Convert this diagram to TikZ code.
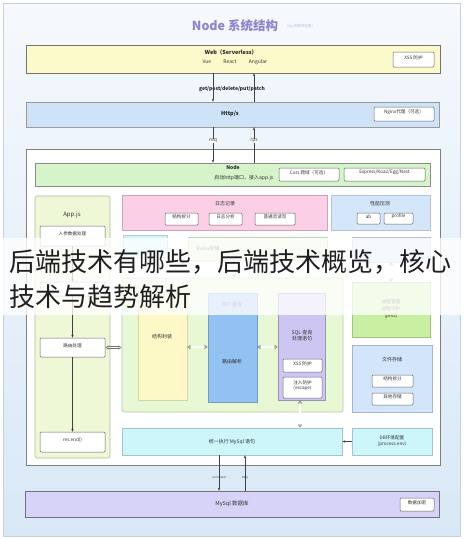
\documentclass[tikz,border=0pt]{standalone}
\usepackage{fontspec}
\setmainfont{Noto Sans CJK SC}
\usetikzlibrary{fit,arrows.meta,calc}
\definecolor{bgtop}{HTML}{F6F9FD}
\definecolor{bgbot}{HTML}{D9E8F7}
\definecolor{bgline}{HTML}{C5D2DE}
\definecolor{webfill}{HTML}{FCF9CB}
\definecolor{httpfill}{HTML}{CFE3F8}
\definecolor{nodefill}{HTML}{D6F4CA}
\definecolor{appfill}{HTML}{EEF8D7}
\definecolor{pinkfill}{HTML}{FBD0E7}
\definecolor{perffill}{HTML}{D3E6FA}
\definecolor{cyanfill}{HTML}{D6F3F7}
\definecolor{redisfill}{HTML}{E4F7DA}
\definecolor{midfill}{HTML}{E8F8D4}
\definecolor{yelfill}{HTML}{FDF9C6}
\definecolor{bluefill}{HTML}{92C2F1}
\definecolor{sqlfill}{HTML}{CDC6F2}
\definecolor{pmfill}{HTML}{C9F0A2}
\definecolor{filefill}{HTML}{D2E5FA}
\definecolor{stmtfill}{HTML}{CDF6FA}
\definecolor{dbfill}{HTML}{D6D2F8}
\definecolor{titlecol}{HTML}{8A86D0}
\definecolor{txt}{HTML}{333333}
\tikzset{
  area/.style={draw=#1, line width=0.6pt, inner sep=0pt},
  ib/.style={draw=black!60, fill=white, rounded corners=1pt, line width=0.5pt, inner sep=0pt, font=\fontsize{4.6}{5.5}\selectfont, text=txt},
  lbl/.style={font=\fontsize{5}{6}\selectfont, text=txt, inner sep=0.5pt},
  blbl/.style={font=\fontsize{5.5}{6.5}\selectfont\bfseries, text=black!85, inner sep=0.5pt},
  arr/.style={draw=black!75, line width=0.5pt, -{Stealth[length=3pt,width=2.4pt]}},
  dbl/.style={draw=black!55, double=white, double distance=1.3pt, line width=0.45pt,
    {Latex[open,length=3pt,width=4.5pt]}-{Latex[open,length=3pt,width=4.5pt]}},
}
\begin{document}
\begin{tikzpicture}[x=1pt,y=-1pt]
\path[use as bounding box, fill=white] (0,0) rectangle (465,539);
% background panel
\path[draw=bgline, line width=0.6pt, top color=bgtop, bottom color=bgbot] (3,3) rectangle (460,536);
\node[font=\fontsize{12.5}{13}\selectfont\bfseries, text=titlecol] (title) at (235,26) {Node 系统结构};
\node[font=\fontsize{3.6}{4}\selectfont, text=titlecol!60, anchor=west] (subt) at (title.east) {（by 肉曲的宝串）};

% Web
\node[area=black!55, fill=webfill, fit={(26,45)(440,73)}] (web) {};
\node[blbl] (webt) at (231,52) {Web（Serverless）};
\node[lbl] (vue) at (207,62) {Vue};
\node[lbl] (react) at (230,62) {React};
\node[lbl] (ang) at (258,62) {Angular};
\node[ib, fit={(393,52)(434,67)}] (xss1) {XSS 防护};

% Http
\node[area=black!40, fill=httpfill, fit={(26,102)(439,127)}] (http) {};
\node[blbl] (httpt) at (230,114) {Http/s};
\node[ib, fit={(374,107)(434,121)}] (nginx) {Nginx代理（可选）};
\node[blbl, font=\fontsize{5}{6}\selectfont\bfseries] (method) at (232,89) {get/post/delete/put/patch};

% container
\node[area=black!50, fill=white, fit={(26,149)(440,465)}] (cont) {};

% Node bar
\node[area=black!45, fill=nodefill, fit={(35,163)(430,186)}] (nodebar) {};
\node[blbl, font=\fontsize{5}{6}\selectfont\bfseries] (nodet) at (233,168) {Node};
\node[lbl, anchor=east] (nodes) at (274,178) {启动http端口，接入app.js};
\node[ib, fit={(279,168)(339,181)}] (cors) {Cors 跨域（可选）};
\node[ib, fit={(344,168)(425,181)}] (express) {Express/Koa2/Egg/Nest};

% coordinates for vertical connectors
\coordinate (xa) at (213,0);
\coordinate (xb) at (254,0);
\draw[arr] (web.south -| xa) -- (http.north -| xa);
\draw[arr] (http.north -| xb) -- (web.south -| xb);
\draw[arr] (http.south -| xa) -- (nodebar.north -| xa);
\draw[arr] (nodebar.north -| xb) -- (http.south -| xb);
\node[lbl, fill=white, inner sep=0.3pt] (req) at (213,141) {req};
\node[lbl, fill=white, inner sep=0.3pt] (rps) at (254,141) {rps};

% App.js column
\node[area=black!15!appfill!70!black, draw=appfill!75!black, fill=appfill, rounded corners=2pt, fit={(35,196)(110,458)}] (app) {};
\node[lbl, font=\fontsize{6}{7}\selectfont] (appt) at (72,215) {App.js};
\node[ib, fit={(40,226)(105,246)}] (rucan) {入参数据处理};
\node[ib, fit={(40,282)(105,296)}] (hid) {};
\node[ib, fit={(40,338)(105,357)}] (luyou) {路由处理};
\node[ib, fit={(40,432)(105,452)}] (resend) {res.end()};
\draw[arr] (rucan) -- (hid);
\draw[arr] (hid) -- (luyou);
\draw[arr] (luyou) -- (resend);

% log
\node[area=pinkfill!80!black, fill=pinkfill, fit={(122,195)(327,230)}] (log) {};
\node[lbl] (logt) at (225,204) {日志记录};
\node[ib, fit={(165,213)(198,225)}] (lg1) {结构拆分};
\node[ib, fit={(209,213)(242,225)}] (lg2) {日志分析};
\node[ib, fit={(255,213)(295,225)}] (lg3) {普通流读写};

% perf
\node[area=perffill!85!black, fill=perffill, fit={(331,195)(430,230)}] (perf) {};
\node[lbl] (perft) at (380,204) {性能压测};
\node[ib, fit={(357,213)(380,224)}] (ab) {ab};
\node[ib, fit={(384,213)(413,224)}] (prof) {profile};

% redis row
\node[area=cyanfill!85!black, fill=cyanfill, fit={(123,235)(167,257)}] (cyan) {};
\node[area=redisfill!85!black, fill=redisfill, fit={(188,237)(327,260)}] (redis) {};
\node[lbl, anchor=west] (redist) at (196,249) {Redis存储};
\node[area=perffill!85!black, fill=perffill, fit={(352,237)(430,262)}] (share) {};

% middle block
\node[area=midfill!80!black, fill=midfill, rounded corners=2pt, fit={(122,278)(343,412)}] (mid) {};
\node[area=yelfill!85!black, fill=yelfill, fit={(138,292)(187,400)}] (pack) {};
\node[lbl] (packt) at (162,337) {结构封装};
\node[area=bluefill!80!black, fill=bluefill, fit={(208,293)(257,402)}] (route) {};
\node[lbl] (autht) at (232,305) {用户鉴权};
\node[lbl] (routet) at (232,362) {路由解析};
\node[area=sqlfill!75!black, fill=sqlfill, fit={(278,293)(325,400)}] (sql) {};
\node[lbl, align=center] (sqlt) at (302,336) {SQL 查询\\处理语句};
\node[ib, fit={(283,359)(322,372)}] (xss2) {XSS 防护};
\node[ib, align=center, fit={(283,377)(322,398)}] (inj) {注入防护\\(escape)};

% right column
\node[area=pmfill!80!black, fill=pmfill, fit={(352,282)(430,337)}] (pm) {};
\node[lbl, align=center, font=\fontsize{4.6}{7}\selectfont] (pmt) at (391,309) {进程管理\\进程守护\\(pm2)};
\node[area=filefill!80!black, fill=filefill, fit={(352,345)(432,412)}] (file) {};
\node[lbl] (filet) at (392,360) {文件存储};
\node[ib, fit={(372,375)(413,387)}] (f1) {结构拆分};
\node[ib, fit={(372,393)(413,405)}] (f2) {异地存储};
\node[area=stmtfill!80!black, fill=stmtfill, fit={(352,428)(432,455)}] (env) {};
\node[lbl, align=center, font=\fontsize{4.6}{6}\selectfont] (envt) at (392,441) {DB环境配置\\(process.env)};

% statement
\node[area=stmtfill!80!black, fill=stmtfill, fit={(122,428)(342,455)}] (stmt) {};
\node[lbl] (stmtt) at (232,442) {统一执行 MySql 语句};

% MySql DB
\node[area=black!55, fill=dbfill, fit={(25,491)(439,517)}] (db) {};
\node[lbl, font=\fontsize{5.5}{6}\selectfont] (dbt) at (232,504) {MySql 数据库};
\node[ib, fit={(400,498)(434,511)}] (enc) {数据加密};

% double arrows
\coordinate (yd) at (0,347);
\draw[dbl] (luyou.east) -- (luyou.east -| mid.west);
\draw[dbl] (pack.east |- yd) -- (route.west |- yd);
\draw[dbl] (route.east |- yd) -- (sql.west |- yd);
\coordinate (xr) at (234,0);
\draw[dbl] (redis.south -| xr) -- (mid.north -| xr);
\coordinate (xs) at (300,0);
\draw[dbl] (sql.south -| xs) -- (stmt.north -| xs);
\coordinate (xp) at (391,0);
\draw[dbl] (share.south -| xp) -- (pm.north -| xp);

% env -> stmt
\draw[arr] (env.west) -- (stmt.east);

% stmt <-> db
\coordinate (xc) at (219,0);
\coordinate (xd) at (245,0);
\draw[arr] (stmt.south -| xc) -- (db.north -| xc);
\draw[arr] (db.north -| xd) -- (stmt.south -| xd);
\node[font=\fontsize{2.8}{3}\selectfont, text=txt] (cmd) at (219,477) {command};
\node[font=\fontsize{2.8}{3}\selectfont, text=txt] (data) at (245,477) {Data};

% caption band
\fill[white, opacity=0.78] (0,238) rectangle (465,315);
\node[anchor=west, font=\fontsize{26}{26}\selectfont, text=black!88, inner sep=0pt] (cap1) at (9,262) {后端技术有哪些，后端技术概览，核心};
\node[anchor=west, font=\fontsize{26}{26}\selectfont, text=black!88, inner sep=0pt] (cap2) at (9,297) {技术与趋势解析};
\end{tikzpicture}
\end{document}
